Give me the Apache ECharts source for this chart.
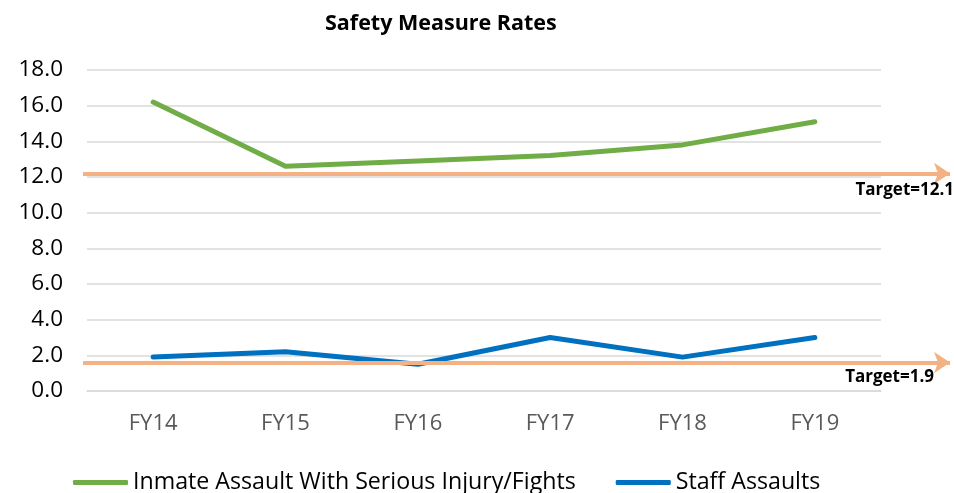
<!DOCTYPE html>
<html>
<head>
<meta charset="utf-8">
<script src="https://cdn.jsdelivr.net/npm/echarts@6/dist/echarts.min.js"></script>
<style>
  html, body { margin: 0; padding: 0; background: #fff; }
  #chart { width: 954px; height: 493px; }
</style>
</head>
<body>
<div id="chart"></div>
<script>
  // data
  var years = ['FY14', 'FY15', 'FY16', 'FY17', 'FY18', 'FY19'];
  var inmateAssault = [16.2, 12.6, 12.9, 13.2, 13.8, 15.1];
  var staffAssault = [1.9, 2.2, 1.5, 3.0, 1.9, 3.0];
  var yTicks = [0, 2, 4, 6, 8, 10, 12, 14, 16, 18];
  // target arrows: where they are drawn and what they say
  var targetLevels = [12.2, 1.6];
  var targetLabels = ['Target=12.1', 'Target=1.9'];

  var font = '"Open Sans", sans-serif';
  var chart = echarts.init(document.getElementById('chart'));

  var labelShift = [[-4, 8], [16, 6]];
  var targetLines = targetLevels.map(function (v, i) {
    return [
      { x: 83, yAxis: v },
      { x: 950, yAxis: v, label: { formatter: targetLabels[i], distance: labelShift[i] } }
    ];
  });

  chart.setOption({
    animation: false,
    title: {
      text: 'Safety Measure Rates',
      left: 320,
      top: 8,
      textStyle: { fontFamily: font, fontSize: 21.5, fontWeight: 'bold', color: '#000' }
    },
    grid: { left: 87, right: 73, top: 70, bottom: 102 },
    legend: {
      top: 466,
      left: 68,
      itemGap: 40,
      icon: 'roundRect',
      itemWidth: 55,
      itemHeight: 5,
      textStyle: { fontFamily: font, fontSize: 23.2, color: '#000' },
      data: ['Inmate Assault With Serious Injury/Fights', 'Staff Assaults']
    },
    xAxis: {
      type: 'category',
      data: years,
      axisTick: { show: false },
      axisLine: { lineStyle: { color: '#d9d9d9', width: 1.5 } },
      axisLabel: { fontFamily: font, fontSize: 22, color: '#595959', margin: 22 }
    },
    yAxis: {
      type: 'value',
      min: yTicks[0],
      max: yTicks[yTicks.length - 1],
      interval: 2,
      axisLine: { show: false },
      axisTick: { show: false },
      splitLine: { lineStyle: { color: '#d9d9d9', width: 1.5 } },
      axisLabel: {
        fontFamily: font, fontSize: 22.5, color: '#000', margin: 24,
        formatter: function (v) { return v.toFixed(1); }
      }
    },
    series: [
      {
        name: 'Inmate Assault With Serious Injury/Fights',
        type: 'line',
        data: inmateAssault,
        showSymbol: false,
        color: '#70ad47',
        lineStyle: { width: 5, cap: 'round', join: 'round' },
        z: 3
      },
      {
        name: 'Staff Assaults',
        type: 'line',
        data: staffAssault,
        showSymbol: false,
        color: '#0070c0',
        lineStyle: { width: 5, cap: 'round', join: 'round' },
        z: 2,
        markLine: {
          silent: true,
          symbol: ['none', 'arrow'],
          symbolSize: [16, 16],
          lineStyle: { color: '#f4b183', width: 4, type: 'solid' },
          label: {
            position: 'insideEndBottom',
            fontFamily: font, fontSize: 17, fontWeight: 'bold', color: '#000'
          },
          data: targetLines,
          z: 4
        }
      }
    ]
  });
</script>
</body>
</html>
